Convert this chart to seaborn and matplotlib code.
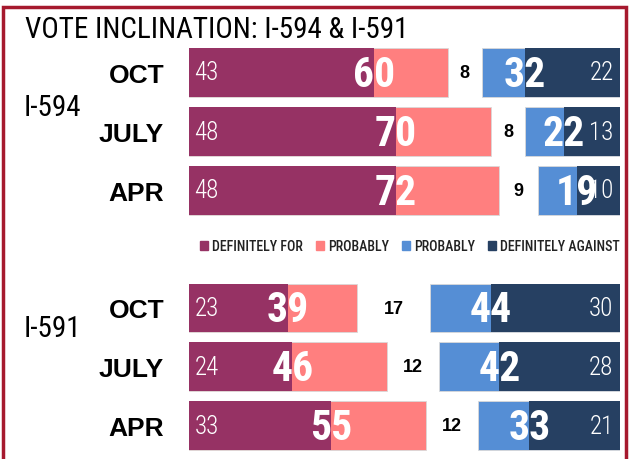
import matplotlib.pyplot as plt
import seaborn as sns
from matplotlib.patches import Patch, Rectangle

# Data (percent)
months = ["OCT", "JULY", "APR"]
i594_def_for = [43, 48, 48]
i594_for = [60, 70, 72]
i594_undecided = [8, 8, 9]
i594_against = [32, 22, 19]
i594_def_against = [22, 13, 10]

i591_def_for = [23, 24, 33]
i591_for = [39, 46, 55]
i591_undecided = [17, 12, 12]
i591_against = [44, 42, 33]
i591_def_against = [30, 28, 21]

legend_labels = ["DEFINITELY FOR", "PROBABLY", "PROBABLY", "DEFINITELY AGAINST"]

# Style
C_DEF_FOR = "#963264"
C_FOR = "#FF7F7F"
C_AGN = "#558ED5"
C_DEF_AGN = "#264062"
BORDER = "#A6192E"
NARROW = ["Roboto Condensed", "Barlow Semi Condensed", "DejaVu Sans"]
WIDE = ["Liberation Sans", "Arimo", "DejaVu Sans"]

sns.set_theme(style="white")
plt.rcParams["font.family"] = NARROW

W, H = 629, 460
fig = plt.figure(figsize=(W / 100, H / 100), dpi=100)


def px_rect(left, top, right, bottom):
    return [left / W, 1 - bottom / H, (right - left) / W, (bottom - top) / H]


def clean(ax):
    ax.set_xticks([])
    ax.set_xlabel("")
    ax.set_ylabel("")
    ax.set_ylim(2.5, -0.5)
    for s in ax.spines.values():
        s.set_visible(False)


def draw_group(rect, def_for, tot_for, undecided, tot_agn, def_agn):
    ax = fig.add_axes(rect)
    sns.barplot(x=tot_for, y=months, color=C_FOR, width=0.83, orient="h",
                saturation=1, ax=ax, edgecolor="#d9d9d9", linewidth=0.6)
    sns.barplot(x=def_for, y=months, color=C_DEF_FOR, width=0.83, orient="h",
                saturation=1, ax=ax, linewidth=0)
    ax.set_xlim(0, 100)
    clean(ax)
    ax.tick_params(axis="y", length=0, pad=18)
    for lab in ax.get_yticklabels():
        lab.set_fontfamily(WIDE)
        lab.set_fontweight("bold")
        lab.set_fontsize(19)
        lab.set_color("black")

    # right side drawn on a mirrored axis so bars grow from the right edge
    ax2 = fig.add_axes(rect)
    ax2.patch.set_visible(False)
    sns.barplot(x=tot_agn, y=months, color=C_AGN, width=0.83, orient="h",
                saturation=1, ax=ax2, edgecolor="#d9d9d9", linewidth=0.6)
    sns.barplot(x=def_agn, y=months, color=C_DEF_AGN, width=0.83, orient="h",
                saturation=1, ax=ax2, linewidth=0)
    ax2.set_xlim(100, 0)
    clean(ax2)
    ax2.set_yticks([])

    for i in range(len(months)):
        ax.text(1.3, i, str(def_for[i]), color="white", fontsize=18,
                fontweight="light", ha="left", va="center")
        ax.text(def_for[i], i + 0.03, str(tot_for[i]), color="white",
                fontsize=30, fontweight="bold", ha="center", va="center")
        gap_mid = (tot_for[i] + 100 - tot_agn[i]) / 2
        ax.text(gap_mid, i, str(undecided[i]), color="black", fontsize=13,
                fontweight="bold", family=WIDE, ha="center", va="center")
        ax2.text(def_agn[i], i + 0.03, str(tot_agn[i]), color="white",
                 fontsize=30, fontweight="bold", ha="center", va="center")
        ax2.text(1.5, i, str(def_agn[i]), color="white", fontsize=18,
                 fontweight="light", ha="right", va="center")
    return ax


draw_group(px_rect(189, 44, 620, 221), i594_def_for, i594_for,
           i594_undecided, i594_against, i594_def_against)
draw_group(px_rect(189, 279.6, 620, 456), i591_def_for, i591_for,
           i591_undecided, i591_against, i591_def_against)

# Titles and group labels
fig.text(25 / W, 1 - 38 / H, "VOTE INCLINATION: I-594 & I-591",
         fontsize=21, color="black", va="baseline", ha="left")
fig.text(24 / W, 1 - 116 / H, "I-594", fontsize=21, color="black",
         va="baseline", ha="left")
fig.text(24 / W, 1 - 337 / H, "I-591", fontsize=21, color="black",
         va="baseline", ha="left")

# Legend
handles = [Patch(color=c) for c in (C_DEF_FOR, C_FOR, C_AGN, C_DEF_AGN)]
fig.legend(handles, legend_labels, loc="center", ncol=4, frameon=False,
           bbox_to_anchor=(410 / W, 1 - 247 / H),
           prop={"family": NARROW, "size": 10, "weight": "medium"},
           handlelength=0.6, handleheight=0.6, handletextpad=0.3,
           columnspacing=0.9, labelcolor="#222222")

# Frame
fig.patches.append(Rectangle((3 / W, -0.05), 623 / W, 1.05 - 8 / H,
                             transform=fig.transFigure, fill=False,
                             edgecolor=BORDER, linewidth=2.5))

fig.savefig("out.png", dpi=100)
